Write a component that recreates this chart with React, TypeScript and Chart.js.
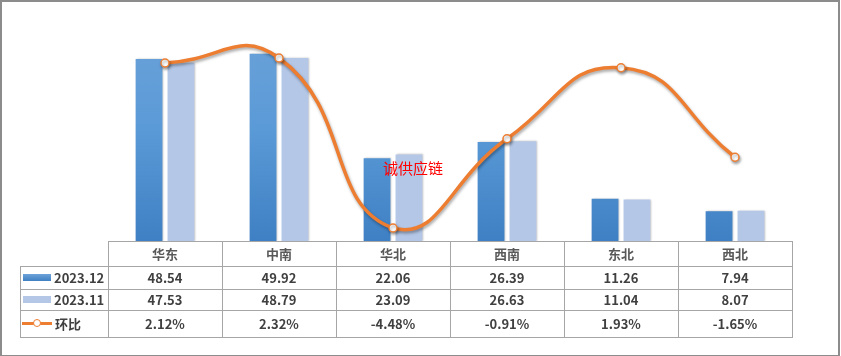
import React, { useEffect, useRef } from "react";
import { Chart, registerables } from "chart.js";

Chart.register(...registerables);

const categories = ["华东", "中南", "华北", "西南", "东北", "西北"];
const series1Label = "2023.12";
const series2Label = "2023.11";
const series3Label = "环比";
const values2023_12 = [48.54, 49.92, 22.06, 26.39, 11.26, 7.94];
const values2023_11 = [47.53, 48.79, 23.09, 26.63, 11.04, 8.07];
const momPercent = [2.12, 2.32, -4.48, -0.91, 1.93, -1.65];

const W = 841;
const H = 356;
const AREA_LEFT = 108;
const AREA_RIGHT = 792;
const AREA_TOP = 16;
const AREA_BOTTOM = 241;
const ROW_LINES = [241, 266, 289, 310, 337];
const GRID = "#a6a6a6";
const TEXT = "#404040";
const FONT = "'Noto Sans CJK SC', 'Noto Sans', sans-serif";

const shadowPlugin = {
  id: "shadowPlugin",
  beforeDatasetDraw(chart: any, args: any) {
    const ctx = chart.ctx;
    ctx.save();
    if (args.meta.type === "line") {
      ctx.shadowColor = "rgba(0,0,0,0.35)";
      ctx.shadowBlur = 3;
      ctx.shadowOffsetX = 1;
      ctx.shadowOffsetY = 2;
    } else {
      ctx.shadowColor = "rgba(0,0,0,0.25)";
      ctx.shadowBlur = 2;
      ctx.shadowOffsetX = 1;
      ctx.shadowOffsetY = 0;
    }
  },
  afterDatasetDraw(chart: any) {
    chart.ctx.restore();
  },
};

export default function App() {
  const canvasRef = useRef<HTMLCanvasElement | null>(null);

  useEffect(() => {
    document.body.style.margin = "0";
    const canvas = canvasRef.current!;
    const darkGradient = (context: any) => {
      const { chart } = context;
      const area = chart.chartArea;
      if (!area) return "#5b9bd5";
      const g = chart.ctx.createLinearGradient(0, area.top, 0, area.bottom);
      g.addColorStop(0, "#6ea3d9");
      g.addColorStop(0.5, "#5a9ad7");
      g.addColorStop(1, "#3f80c4");
      return g;
    };
    const chart = new Chart(canvas, {
      type: "bar",
      data: {
        labels: categories,
        datasets: [
          {
            type: "line",
            label: series3Label,
            data: momPercent,
            yAxisID: "y1",
            borderColor: "#ed7d31",
            borderWidth: 3.5,
            tension: 0.5,
            pointRadius: 4,
            pointBackgroundColor: "#ffffff",
            pointBorderColor: "#ed7d31",
            pointBorderWidth: 1.5,
            order: 0,
          } as any,
          {
            label: series1Label,
            data: values2023_12,
            yAxisID: "y",
            backgroundColor: darkGradient,
            categoryPercentage: 0.56,
            barPercentage: 0.84,
            order: 1,
          },
          {
            label: series2Label,
            data: values2023_11,
            yAxisID: "y",
            backgroundColor: "#b4c7e7",
            categoryPercentage: 0.56,
            barPercentage: 0.84,
            order: 2,
          },
        ],
      },
      options: {
        animation: false,
        responsive: false,
        maintainAspectRatio: false,
        devicePixelRatio: 1,
        layout: {
          padding: {
            left: AREA_LEFT,
            right: W - AREA_RIGHT,
            top: AREA_TOP,
            bottom: H - AREA_BOTTOM,
          },
        },
        plugins: {
          legend: { display: false },
          tooltip: { enabled: false },
        },
        scales: {
          x: { display: false, offset: true },
          y: { display: false, min: 0, max: 60 },
          y1: { display: false, min: -5, max: 4, position: "right" },
        },
      },
      plugins: [shadowPlugin],
    });
    return () => chart.destroy();
  }, []);

  const colW = (AREA_RIGHT - AREA_LEFT) / categories.length;
  const cells: React.ReactNode[] = [];

  // horizontal lines
  ROW_LINES.forEach((y, i) => {
    const x0 = i === 0 ? AREA_LEFT : 20;
    cells.push(
      <div key={"h" + i} style={{ position: "absolute", left: x0, top: y, width: AREA_RIGHT - x0 + 1, height: 1, background: GRID }} />
    );
  });
  // vertical lines
  cells.push(
    <div key="v-left" style={{ position: "absolute", left: 20, top: ROW_LINES[1], width: 1, height: ROW_LINES[4] - ROW_LINES[1], background: GRID }} />
  );
  for (let i = 0; i <= categories.length; i++) {
    const x = Math.round(AREA_LEFT + i * colW);
    cells.push(
      <div key={"v" + i} style={{ position: "absolute", left: x, top: ROW_LINES[0], width: 1, height: ROW_LINES[4] - ROW_LINES[0], background: GRID }} />
    );
  }

  const cellText = (key: string, x: number, w: number, r: number, text: string, weight = 700, color = TEXT) => (
    <div
      key={key}
      style={{
        position: "absolute",
        left: x,
        top: ROW_LINES[r],
        width: w,
        height: ROW_LINES[r + 1] - ROW_LINES[r],
        display: "flex",
        alignItems: "center",
        justifyContent: "center",
        font: `${weight} 13px ${FONT}`,
        color,
        whiteSpace: "nowrap",
      }}
    >
      {text}
    </div>
  );

  categories.forEach((c, i) => {
    const x = AREA_LEFT + i * colW;
    cells.push(cellText("c" + i, x, colW, 0, c, 700, "#595959"));
    cells.push(cellText("a" + i, x, colW, 1, values2023_12[i].toFixed(2)));
    cells.push(cellText("b" + i, x, colW, 2, values2023_11[i].toFixed(2)));
    cells.push(cellText("p" + i, x, colW, 3, momPercent[i].toFixed(2) + "%"));
  });

  const legendRow = (key: string, r: number, swatch: React.ReactNode, label: string) => (
    <div
      key={key}
      style={{
        position: "absolute",
        left: 21,
        top: ROW_LINES[r],
        width: AREA_LEFT - 21,
        height: ROW_LINES[r + 1] - ROW_LINES[r],
        display: "flex",
        alignItems: "center",
        font: `700 13px ${FONT}`,
        color: TEXT,
        whiteSpace: "nowrap",
      }}
    >
      {swatch}
      <span style={{ marginLeft: 3 }}>{label}</span>
    </div>
  );

  cells.push(
    legendRow(
      "l1",
      1,
      <div style={{ marginLeft: 2, width: 28, height: 7, background: "linear-gradient(#6ea3d9,#3f80c4)" }} />,
      series1Label
    )
  );
  cells.push(
    legendRow("l2", 2, <div style={{ marginLeft: 2, width: 28, height: 7, background: "#b4c7e7" }} />, series2Label)
  );
  cells.push(
    legendRow(
      "l3",
      3,
      <div style={{ marginLeft: 1, width: 30, height: 9, position: "relative" }}>
        <div style={{ position: "absolute", left: 0, top: 3, width: 30, height: 3, background: "#ed7d31" }} />
        <div
          style={{
            position: "absolute",
            left: 11,
            top: 0,
            width: 6,
            height: 6,
            borderRadius: "50%",
            background: "#fff",
            border: "1.5px solid #ed7d31",
          }}
        />
      </div>,
      series3Label
    )
  );

  return (
    <div style={{ position: "fixed", left: 0, top: 0, width: W, height: H, background: "#fff", overflow: "hidden" }}>
      <canvas ref={canvasRef} width={W} height={H} style={{ position: "absolute", left: 0, top: 0, width: W, height: H }} />
      {cells}
      <div
        style={{
          position: "absolute",
          left: 383,
          top: 158,
          font: `400 15px ${FONT}`,
          color: "#ff0000",
          whiteSpace: "nowrap",
          lineHeight: "20px",
        }}
      >
        诚供应链
      </div>
      <div
        style={{
          position: "absolute",
          left: 0,
          top: 0,
          width: W - 5,
          height: H - 3,
          border: "2px solid #8c8c8c",
          pointerEvents: "none",
        }}
      />
    </div>
  );
}
